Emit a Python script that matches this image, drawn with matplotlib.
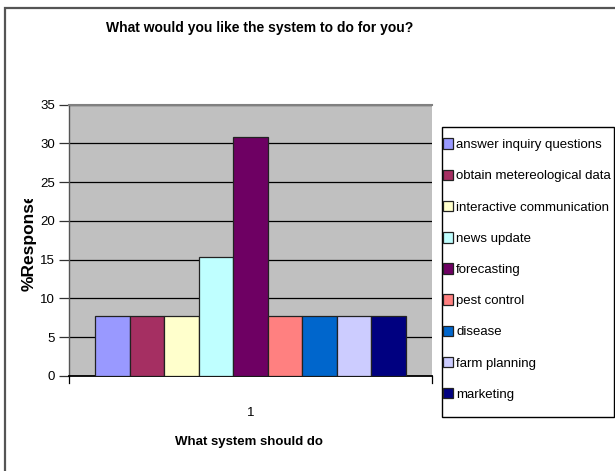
import matplotlib
matplotlib.use("Agg")
import matplotlib.pyplot as plt
from matplotlib.patches import Rectangle
from matplotlib.transforms import Bbox

plt.rcParams['font.family'] = ['Liberation Sans', 'DejaVu Sans']

categories = ["answer inquiry questions", "obtain metereological data",
              "interactive communication", "news update", "forecasting",
              "pest control", "disease", "farm planning", "marketing"]
values = [7.69, 7.69, 7.69, 15.38, 30.77, 7.69, 7.69, 7.69, 7.69]
colors = ["#9999FF", "#A52F62", "#FFFFCC", "#BFFFFF", "#6E0063",
          "#FF8080", "#0066CC", "#CCCCFF", "#000080"]
y_ticks = [0, 5, 10, 15, 20, 25, 30, 35]
x_tick_labels = ["1"]

W, H = 615, 471
fig = plt.figure(figsize=(W / 100, H / 100), dpi=100)

def fx(px):
    return px / W

def fy(py):
    return 1 - py / H

# outer chart frame
fig.patches.append(Rectangle((fx(5), fy(700)), fx(800), fy(8) - fy(700),
                             transform=fig.transFigure, fill=False,
                             edgecolor="#555555", linewidth=1.6))

left, right, top, bottom = 69, 432, 104.7, 376
ax = fig.add_axes([fx(left), fy(bottom), fx(right - left), fy(top) - fy(bottom)])
ax.set_facecolor("#C0C0C0")

n = len(values)
group = 0.857
bw = group / n
xs = [0.5 + (i - (n - 1) / 2) * bw for i in range(n)]
bars = ax.bar(xs, values, width=bw, color=colors, edgecolor="#222222",
              linewidth=0.9, zorder=3)

ax.set_xlim(0, 1)
ax.set_ylim(0, 35)
ax.set_yticks(y_ticks)
ax.set_yticklabels([str(t) for t in y_ticks], fontsize=9.5)
ax.yaxis.grid(True, color="#000000", linewidth=0.9, zorder=1)
ax.set_axisbelow(True)
ax.set_xticks([0.5])
ax.set_xticklabels(x_tick_labels, fontsize=9.5)
ax.tick_params(axis='x', length=0, pad=22)
ax.tick_params(axis='y', length=7, width=0.9, color="#333333", pad=3)

for side in ["top", "right"]:
    ax.spines[side].set_visible(False)
ax.spines["left"].set_color("#555555")
ax.spines["left"].set_linewidth(1.0)
ax.spines["bottom"].set_color("#000000")
ax.spines["bottom"].set_linewidth(1.3)
# top edge of plot area
ax.axhline(35, color="#808080", linewidth=1.5, zorder=4, clip_on=False)

# category boundary ticks below the axis
for xb in [0, 1]:
    ax.plot([xb, xb], [0, -0.9], color="#000000", linewidth=0.9,
            clip_on=False, zorder=5)

fig.text(fx(260), fy(28), "What would you like the system to do for you?",
         ha="center", va="center", fontsize=10, fontweight="bold")
fig.text(fx(249), fy(442), "What system should do",
         ha="center", va="center", fontsize=9.5, fontweight="bold")

# y-axis title, cut short by its box
ylab = fig.text(fx(29), fy(291), "%Responses", rotation=90,
                ha="center", va="bottom", fontsize=12.5, fontweight="bold")
ylab.set_clip_box(Bbox.from_extents(0, 0, 80, H - 199))
ylab.set_clip_on(True)

# legend box
fig.patches.append(Rectangle((fx(442), fy(417)), fx(614) - fx(442), fy(127) - fy(417),
                             transform=fig.transFigure, facecolor="white",
                             edgecolor="#000000", linewidth=1.0, zorder=1))
leg = fig.legend(handles=list(bars), labels=categories,
                 loc="upper left", bbox_to_anchor=(fx(442.5), fy(138.5)),
                 fontsize=9.5, frameon=False,
                 handlelength=0.78, handleheight=0.85, handletextpad=0.25,
                 labelspacing=1.39, borderpad=0, borderaxespad=0)
leg.set_zorder(2)

fig.savefig("out.png", dpi=100)
